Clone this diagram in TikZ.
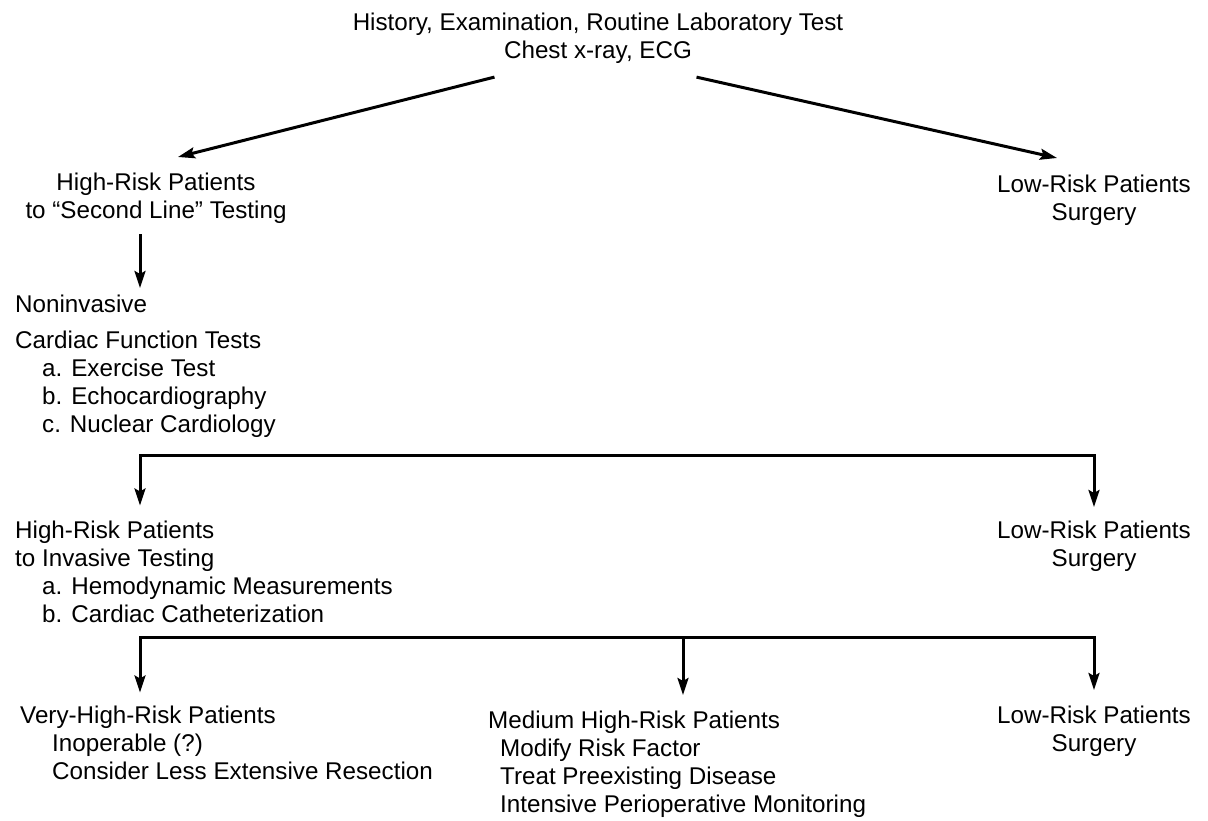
\documentclass[tikz,border=0pt]{standalone}
\usepackage{fontspec}
\setmainfont{Liberation Sans}
\usetikzlibrary{arrows.meta}

\begin{document}
\begin{tikzpicture}[
    x=1pt, y=-1pt,
    txt/.style={inner sep=0pt, align=#1, font=\fontsize{24.2}{28}\selectfont},
    txt/.default=left,
    arrow/.style={-{Stealth[length=17pt, width=11pt, inset=3pt]}, line width=3pt, line cap=rect},
]
\useasboundingbox (0,0) rectangle (1208,821);

% ── First line ──
\node[txt=center, anchor=north] (screen) at (598,12.5) {History, Examination, Routine Laboratory Test\\Chest x-ray, ECG};
\node[txt=center, anchor=north] (hr1) at (156,172.5) {High-Risk Patients\\to ``Second Line'' Testing};
\node[txt=center, anchor=north] (lr1) at (1094,174.5) {Low-Risk Patients\\Surgery};

% ── Second line ──
\node[txt, anchor=north west] (nonin) at (15,294.5) {Noninvasive\\[8pt]Cardiac Function Tests\\\hspace*{27pt}a. Exercise Test\\\hspace*{27pt}b. Echocardiography\\\hspace*{27pt}c. Nuclear Cardiology};
\node[txt, anchor=north west] (hr2) at (15,520.5) {High-Risk Patients\\to Invasive Testing\\\hspace*{27pt}a. Hemodynamic Measurements\\\hspace*{27pt}b. Cardiac Catheterization};
\node[txt=center, anchor=north] (lr2) at (1094,520.5) {Low-Risk Patients\\Surgery};

% ── Invasive outcome ──
\node[txt, anchor=north west] (vhr) at (20,705.5) {Very-High-Risk Patients\\\hspace*{32pt}Inoperable (?)\\\hspace*{32pt}Consider Less Extensive Resection};
\node[txt, anchor=north west] (mhr) at (488,710.5) {Medium High-Risk Patients\\\hspace*{12pt}Modify Risk Factor\\\hspace*{12pt}Treat Preexisting Disease\\\hspace*{12pt}Intensive Perioperative Monitoring};
\node[txt=center, anchor=north] (lr3) at (1094,705.5) {Low-Risk Patients\\Surgery};

% ── Forks ──
\coordinate (fork1) at (140,455);
\coordinate (fork2) at (140,637);
\coordinate (forkm) at (683,637);

% ── Arrows ──
\draw[arrow] ([xshift=-105pt,yshift=-14pt]screen.south) -- ([xshift=22pt,yshift=15.5pt]hr1.north);
\draw[arrow] ([xshift=100pt,yshift=-14pt]screen.south) -- ([xshift=-37pt,yshift=16.5pt]lr1.north);
\draw[arrow, shorten <=12pt, shorten >=6.5pt] (hr1.south -| fork1) -- (nonin.north -| fork1);
\draw[arrow, shorten >=15pt] (fork1) -- (fork1 |- hr2.north);
\draw[arrow, shorten >=13.5pt] (fork1) -| (lr2.north);
\draw[arrow, shorten >=13pt] (fork2) -- (fork2 |- vhr.north);
\draw[arrow, shorten >=15.5pt] (forkm) -- (forkm |- mhr.north);
\draw[arrow, shorten >=15.5pt] (fork2) -| (lr3.north);

\end{tikzpicture}
\end{document}
